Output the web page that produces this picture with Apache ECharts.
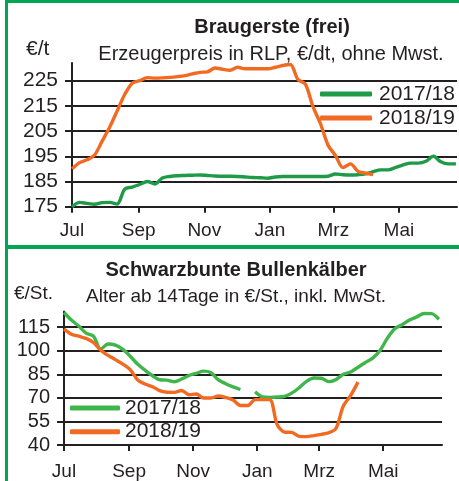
<!DOCTYPE html>
<html>
<head>
<meta charset="utf-8">
<script src="https://cdn.jsdelivr.net/npm/echarts@6/dist/echarts.min.js"></script>
<style>
  html, body { margin: 0; padding: 0; background: #fff; }
  #chart { width: 459px; height: 481px; }
</style>
</head>
<body>
<div id="chart"></div>
<script>
// month ticks, as days since 1 July
const monthDays = [0, 62, 123, 184, 243, 304];
const monthNames = ['Jul', 'Sep', 'Nov', 'Jan', 'Mrz', 'Mai'];

// Braugerste, weekly values
const gersteTicks = [175, 185, 195, 205, 215, 225];
const gerste1718 = [175, 176.7, 176.3, 176, 176.6, 176.7, 176.1, 182, 182.8, 183.8,
  185, 184, 186.4, 187, 187.3, 187.4, 187.5, 187.6, 187.4, 187.2,
  187.1, 187.1, 187, 186.8, 186.6, 186.5, 186.3, 186.8, 187, 187,
  187, 187, 187, 187, 187.1, 188, 187.7, 187.6, 187.7, 188,
  188.9, 189.6, 189.6, 190.6, 191.6, 192.3, 192.3, 193, 195, 192.8,
  192, 192];
const gerste1819 = [190, 192.5, 193.6, 195.5, 201, 206.5, 213, 219.5, 224, 225,
  226.2, 226, 226.1, 226.3, 226.6, 227, 227.7, 228.3, 228.5, 230,
  229.5, 229.1, 230.3, 229.7, 229.7, 229.7, 229.7, 230.3, 231, 231.4,
  225.5, 223.6, 214.8, 208, 199.5, 195.3, 190.5, 192, 189, 188.3,
  187.7];

// Schwarzbunte Bullenkälber, weekly values ('-' = no quote)
const kalbTicks = [40, 55, 70, 85, 100, 115];
const kalb1718 = [124.3, 119.5, 115.7, 111.2, 109.3, 101, 104.3, 103.5, 100.8, 96.5,
  91.5, 87.7, 84.2, 81.5, 81.3, 80.2, 82, 84.2, 85.6, 87,
  86, 81.5, 79, 77, 75.3, '-', 73.9, 70.6, 70.3, 70.5,
  71, 73, 76.4, 80.5, 82.6, 82.5, 80.3, 81.6, 85, 86.5,
  89.5, 92.5, 95.3, 100.1, 108, 114, 116.5, 119.5, 121.5, 123.7,
  123.6, 120];
const kalb1819 = [113.7, 110.5, 109.2, 107.8, 105.2, 100.3, 97, 94.3, 91.5, 88,
  81.5, 78.8, 77.2, 74.6, 73.6, 73.5, 74.7, 72, 72.4, 69.9,
  69.9, 71.2, 70.2, 68.6, 65.1, 65.1, 68.9, 68.9, 68.9, 53,
  48.2, 48, 45.5, 45.3, 46, 46.8, 47.8, 50.5, 64.8, 71.5,
  80];

const font = '"Liberation Sans", Arial, sans-serif';
const ink = '#231f20';
const green1 = '#1f9a48';
const green2 = '#40b54c';
const orange = '#f26a22';
const frame = '#00a651';

const weekly = (arr) => arr.map((v, i) => [i * 7, v]);
const monthLabel = (v) => monthNames[monthDays.indexOf(v)] || '';

function xAxisFor(grid, max, margin) {
  return {
    type: 'value', gridIndex: grid, min: 0, max: max,
    axisLine: { lineStyle: { color: ink, width: 2 } },
    axisTick: { customValues: monthDays, length: 6, lineStyle: { color: ink, width: 2 } },
    axisLabel: { customValues: monthDays, formatter: monthLabel, margin: margin,
      color: ink, fontFamily: font, fontSize: 19 },
    splitLine: { show: false }
  };
}

function yAxisFor(grid, min, max, ticks, size) {
  return {
    type: 'value', gridIndex: grid, min: min, max: max,
    axisLine: { show: true, lineStyle: { color: ink, width: 2 } },
    axisTick: { customValues: ticks, length: 7, lineStyle: { color: ink, width: 2 } },
    axisLabel: { customValues: ticks, margin: 14, color: ink, fontFamily: font, fontSize: size },
    splitLine: { show: true, lineStyle: { color: ink, width: 2 } }
  };
}

function lineSeries(name, data, color, axis) {
  return {
    name: name, type: 'line', data: weekly(data),
    xAxisIndex: axis, yAxisIndex: axis,
    symbol: 'none', smooth: 0.3, connectNulls: false,
    lineStyle: { color: color, width: 3.4 },
    itemStyle: { color: color }
  };
}

function label(text, left, top, size, bold, center) {
  return {
    text: text, left: left, top: top, padding: 0,
    textAlign: center ? 'center' : 'left',
    textStyle: { fontFamily: font, fontSize: size, fontWeight: bold ? 'bold' : 'normal', color: ink }
  };
}

const chart = echarts.init(document.getElementById('chart'));
chart.setOption({
  animation: false,
  textStyle: { fontFamily: font },
  title: [
    label('Braugerste (frei)', 272, 17, 20, true, true),
    label('Erzeugerpreis in RLP, €/dt, ohne Mwst.', 271, 44, 20, false, true),
    label('€/t', 26, 39, 21, false, false),
    label('Schwarzbunte Bullenkälber', 236, 260, 20, true, true),
    label('Alter ab 14Tage in €/St., inkl. MwSt.', 236, 287, 19, false, true),
    label('€/St.', 14, 284, 19, false, false)
  ],
  legend: [
    { left: 320, top: 83.5, padding: 0, orient: 'vertical', itemGap: 3, itemWidth: 52, itemHeight: 5,
      icon: 'roundRect', selectedMode: false,
      textStyle: { fontFamily: font, fontSize: 21, lineHeight: 21, color: ink, padding: [0, 0, 0, 2] },
      data: [{ name: '2017/18', itemStyle: { color: green1 } },
             { name: '2018/19', itemStyle: { color: orange } }] },
    { left: 70, top: 397.5, padding: 0, orient: 'vertical', itemGap: 2.7, itemWidth: 50, itemHeight: 5,
      icon: 'roundRect', selectedMode: false,
      textStyle: { fontFamily: font, fontSize: 21, lineHeight: 21, color: ink },
      data: [{ name: '2017/18', itemStyle: { color: green2 } },
             { name: '2018/19', itemStyle: { color: orange } }] }
  ],
  grid: [
    { left: 72, top: 63, width: 385, height: 143.7 },
    { left: 64, top: 311.4, width: 378, height: 135.3 }
  ],
  xAxis: [xAxisFor(0, 358, 15), xAxisFor(1, 360, 17)],
  yAxis: [yAxisFor(0, 175, 232, gersteTicks, 21), yAxisFor(1, 40, 125, kalbTicks, 20)],
  series: [
    lineSeries('2017/18', gerste1718, green1, 0),
    lineSeries('2018/19', gerste1819, orange, 0),
    lineSeries('2017/18', kalb1718, green2, 1),
    lineSeries('2018/19', kalb1819, orange, 1)
  ],
  graphic: [
    { type: 'rect', shape: { x: 5, y: 0, width: 3, height: 481 }, style: { fill: frame } },
    { type: 'rect', shape: { x: 5, y: 0, width: 454, height: 3 }, style: { fill: frame } },
    { type: 'rect', shape: { x: 5, y: 245, width: 454, height: 4 }, style: { fill: frame } }
  ]
});
</script>
</body>
</html>
